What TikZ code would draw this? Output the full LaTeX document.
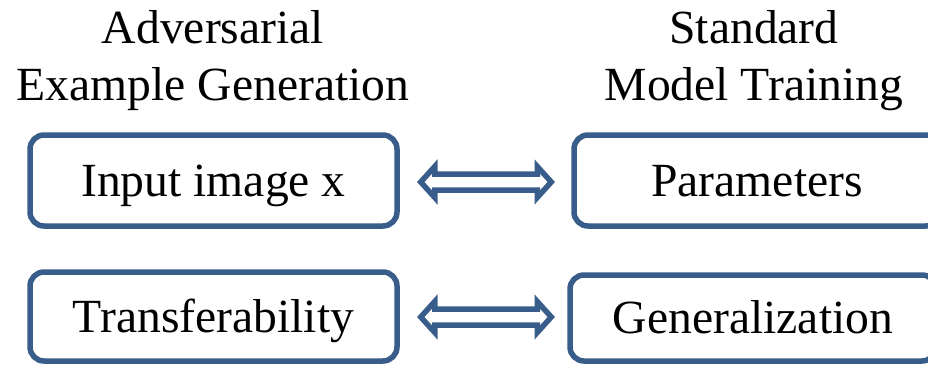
\documentclass[tikz,border=0pt]{standalone}
\usepackage{fontspec}
\setmainfont{Liberation Serif}
\usetikzlibrary{calc}
\definecolor{boxblue}{HTML}{385D8A}
\tikzset{
  boxnode/.style={draw=boxblue, line width=5.5pt, rounded corners=14pt, fill=white,
    font=\fontsize{47.6}{57}\selectfont, text height=31.5pt, text depth=0pt,
    inner sep=0pt},
  headnode/.style={font=\fontsize{47.6}{57}\selectfont, align=center, inner sep=0pt},
  dblarrow/.style={draw=boxblue, line width=5.5pt, line join=miter, fill=white}
}
\newcommand\lrblockarrow[2]{%
  \path[dblarrow] (#1) -- ($(#1)+(14,-15.5)$) -- ($(#1)+(14,-8)$) -- ($(#2)+(-14,-8)$)
    -- ($(#2)+(-14,-15.5)$) -- (#2) -- ($(#2)+(-14,15.5)$) -- ($(#2)+(-14,8)$)
    -- ($(#1)+(14,8)$) -- ($(#1)+(14,15.5)$) -- cycle;}
\begin{document}
\begin{tikzpicture}[x=1pt,y=-1pt]
\clip (0,0) rectangle (928,367);
\useasboundingbox (0,0) rectangle (928,367);
\node[headnode, anchor=base] (h1) at (213,43) {Adversarial};
\node[headnode, anchor=base] (h1b) at (213,100) {Example Generation};
\node[headnode, anchor=base] (h2) at (754,43) {Standard};
\node[headnode, anchor=base] (h2b) at (754,100) {Model Training};
\node[boxnode, minimum width=367pt, minimum height=91pt] (b1) at (213.5,180.5) {Input image x};
\node[boxnode, minimum width=366pt, minimum height=91pt] (b2) at (757,180.5) {Parameters};
\node[boxnode, minimum width=367pt, minimum height=89pt] (b3) at (213.5,316.5) {Transferability};
\node[boxnode, minimum width=366pt, minimum height=86pt] (b4) at (753,318) {Generalization};
\coordinate (a1l) at ($(b1.east)+(21,1.5)$);
\coordinate (a1r) at ($(b2.west)+(-20,1.5)$);
\coordinate (a2l) at ($(b3.east)+(21,0.5)$);
\coordinate (a2r) at ($(b4.west)+(-16,-1)$);
\lrblockarrow{a1l}{a1r}
\lrblockarrow{a2l}{a2r}
\end{tikzpicture}
\end{document}
